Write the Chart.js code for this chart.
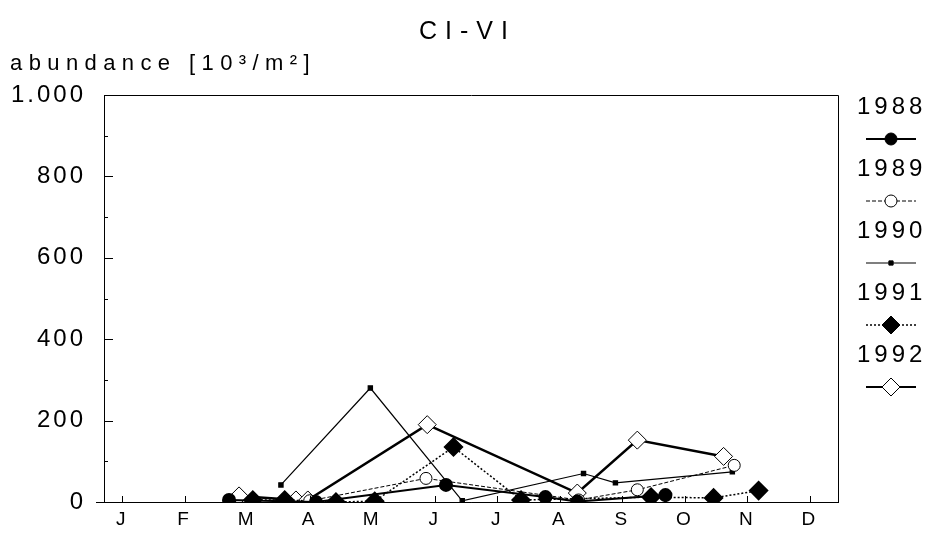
<!DOCTYPE html>
<html>
<head>
<meta charset="utf-8">
<script src="https://cdn.jsdelivr.net/npm/chart.js@4.4.1/dist/chart.umd.min.js"></script>
<style>
  html, body { margin: 0; padding: 0; background: #fff; }
  #wrap { width: 935px; height: 537px; }
</style>
</head>
<body>
<div id="wrap"><canvas id="myChart"></canvas></div>
<script>
// month labels, x position in months (0 = J)
const months = ['J', 'F', 'M', 'A', 'M', 'J', 'J', 'A', 'S', 'O', 'N', 'D'];
const yTicks = [0, 200, 400, 600, 800, 1000];
const years = ['1988', '1989', '1990', '1991', '1992'];

const x1988 = [1.71, 3.1, 5.18, 6.77, 7.28, 8.69];
const y1988 = [5, 0, 42, 12, 1, 17];

const x1989 = [3.0, 4.86, 7.3, 8.24, 9.79];
const y1989 = [3, 58, 5, 30, 90];

const x1990 = [2.54, 3.97, 5.44, 7.38, 7.89, 9.76];
const y1990 = [42, 280, 3, 70, 47, 74];

const x1991 = [2.09, 2.6, 3.42, 4.04, 5.3, 6.38, 8.46, 9.46, 10.18];
const y1991 = [5, 5, 0, 2, 135, 5, 12, 10, 28];

const x1992 = [1.87, 2.78, 2.97, 4.88, 7.28, 8.24, 9.62];
const y1992 = [15, 5, 5, 190, 22, 152, 112];

function pts(xs, ys) {
    return xs.map((x, i) => ({x: x, y: ys[i]}));
}

const FONT = "'Liberation Sans', Arial, sans-serif";

const datasets = [
    {label: years[0], data: pts(x1988, y1988), borderColor: '#000', borderWidth: 2,
     pointStyle: 'circle', pointRadius: 6, pointBackgroundColor: '#000'},
    {label: years[1], data: pts(x1989, y1989), borderColor: '#000', borderWidth: 1, borderDash: [4, 2],
     pointStyle: 'circle', pointRadius: 6, pointBackgroundColor: '#fff', pointBorderWidth: 1},
    {label: years[2], data: pts(x1990, y1990), borderColor: '#000', borderWidth: 1.2,
     pointStyle: 'rect', pointRadius: 3, pointBackgroundColor: '#000'},
    {label: years[3], data: pts(x1991, y1991), borderColor: '#000', borderWidth: 1.5, borderDash: [2, 2],
     pointStyle: 'rectRot', pointRadius: 9, pointBackgroundColor: '#000'},
    {label: years[4], data: pts(x1992, y1992), borderColor: '#000', borderWidth: 2.5,
     pointStyle: 'rectRot', pointRadius: 9, pointBackgroundColor: '#fff', pointBorderWidth: 1}
];

// letter spacing for the tick labels drawn by chart.js
const spacing = {
    id: 'spacing',
    beforeLayout(chart) { chart.ctx.letterSpacing = '3px'; },
    beforeDraw(chart) { chart.ctx.letterSpacing = '3px'; }
};

// frame, inward ticks, title, axis label and legend
const decor = {
    id: 'decor',
    afterDraw(chart) {
        const ctx = chart.ctx;
        const a = chart.chartArea;
        const xs = chart.scales.x, ys = chart.scales.y;
        ctx.save();
        ctx.strokeStyle = '#000';
        ctx.lineWidth = 1;
        ctx.beginPath();
        ctx.rect(a.left + 0.5, a.top + 0.5, a.right - a.left, a.bottom - a.top);
        ctx.stroke();
        // y ticks (major + minor)
        for (let v = 100; v < 1000; v += 100) {
            const y = Math.round(ys.getPixelForValue(v)) + 0.5;
            ctx.beginPath();
            ctx.moveTo(a.left, y);
            ctx.lineTo(a.left + (v % 200 === 0 ? 9 : 4), y);
            ctx.stroke();
        }
        // x ticks
        for (let i = 0; i < months.length; i++) {
            const x = Math.round(xs.getPixelForValue(i)) + 0.5;
            ctx.beginPath();
            ctx.moveTo(x, a.bottom);
            ctx.lineTo(x, a.bottom - 6);
            ctx.stroke();
        }
        // short stub left of origin
        ctx.beginPath();
        ctx.moveTo(a.left - 8, a.bottom + 0.5);
        ctx.lineTo(a.left, a.bottom + 0.5);
        ctx.stroke();

        ctx.fillStyle = '#000';
        ctx.textBaseline = 'middle';
        ctx.textAlign = 'left';
        ctx.letterSpacing = '8px';
        ctx.font = '25px ' + FONT;
        ctx.fillText('CI-VI', 419, 32);
        ctx.letterSpacing = '6.4px';
        ctx.font = '22px ' + FONT;
        ctx.fillText('abundance [10³/m²]', 10, 64);

        // legend
        ctx.letterSpacing = '4px';
        ctx.font = '24px ' + FONT;
        const lx = 891;
        chart.data.datasets.forEach((ds, i) => {
            const ty = 107 + i * 62;
            const my = ty + 32;
            ctx.fillText(ds.label, 857, ty);
            ctx.save();
            ctx.lineWidth = Math.min(ds.borderWidth, 2);
            ctx.setLineDash(ds.borderDash || []);
            ctx.beginPath();
            ctx.moveTo(lx - 25, my);
            ctx.lineTo(lx + 25, my);
            ctx.stroke();
            ctx.setLineDash([]);
            ctx.lineWidth = 1;
            ctx.fillStyle = ds.pointBackgroundColor;
            Chart.helpers.drawPoint(ctx, {
                pointStyle: ds.pointStyle,
                radius: ds.pointStyle === 'rect' ? 3 : (ds.pointStyle === 'rectRot' ? 9 : 6),
                borderWidth: 1,
                rotation: 0
            }, lx, my);
            ctx.restore();
        });
        ctx.restore();
    }
};

const config = {
    type: 'line',
    data: {datasets},
    options: {
        responsive: true,
        maintainAspectRatio: false,
        animation: false,
        layout: {padding: {top: 95, right: 97, left: 0, bottom: 0}},
        elements: {line: {tension: 0, fill: false}, point: {borderColor: '#000'}},
        plugins: {legend: {display: false}, tooltip: {enabled: false}},
        scales: {
            x: {
                type: 'linear',
                min: -0.29,
                max: 11.45,
                afterBuildTicks: (s) => { s.ticks = months.map((m, i) => ({value: i})); },
                afterFit: (s) => { s.height = 35; },
                grid: {display: false, drawTicks: false},
                border: {display: true, color: '#000'},
                ticks: {
                    color: '#000',
                    padding: 6,
                    maxRotation: 0,
                    autoSkip: false,
                    font: {family: FONT, size: 19},
                    callback: (v) => months[v]
                }
            },
            y: {
                min: 0,
                max: 1000,
                afterBuildTicks: (s) => { s.ticks = yTicks.map(v => ({value: v})); },
                afterFit: (s) => { s.width = 104; },
                grid: {display: false, drawTicks: false},
                border: {display: true, color: '#000'},
                ticks: {
                    color: '#000',
                    padding: 18,
                    font: {family: FONT, size: 24},
                    callback: (v) => v === 1000 ? '1.000' : String(v)
                }
            }
        }
    },
    plugins: [spacing, decor]
};

const myChart = new Chart(document.getElementById('myChart'), config);
</script>
</body>
</html>
